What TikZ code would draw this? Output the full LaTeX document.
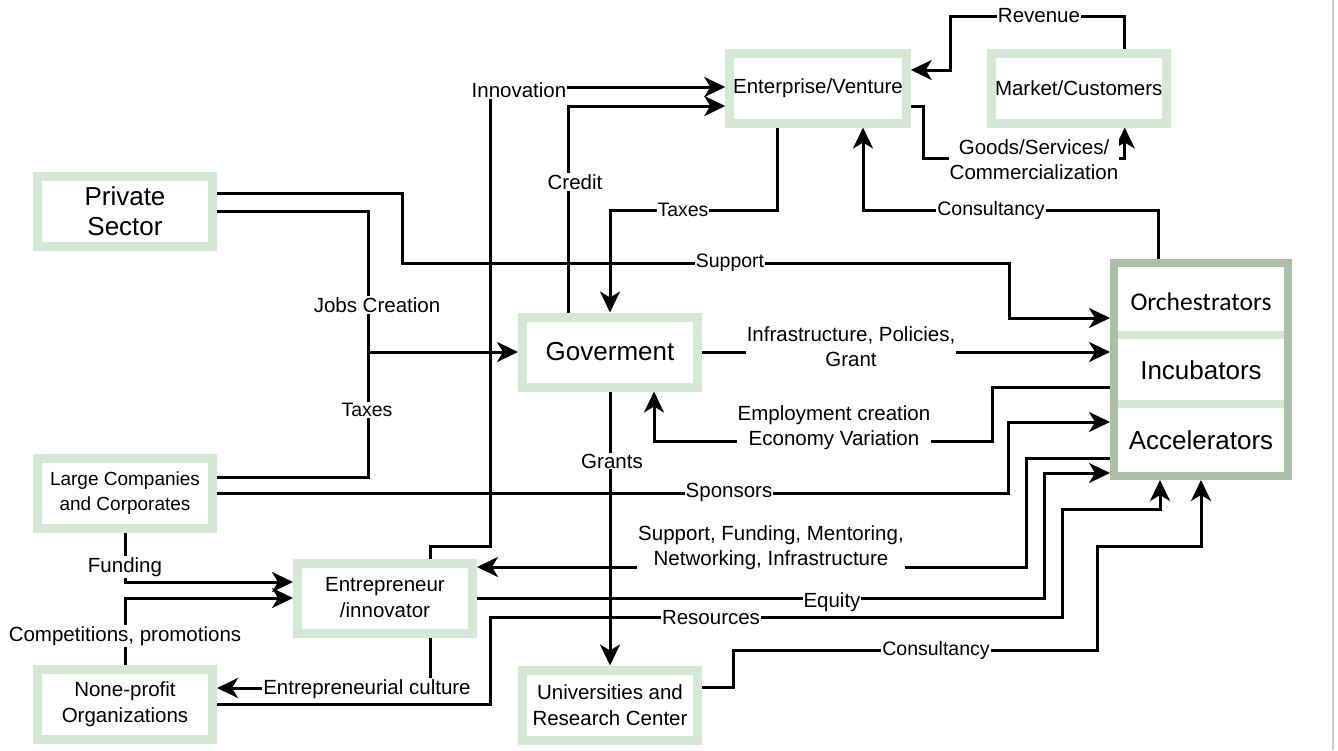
\documentclass[tikz,border=0pt]{standalone}
\usepackage{fontspec}
\setmainfont{Liberation Sans}
\newfontfamily\calibrifont{Carlito}
\usetikzlibrary{positioning}
\usetikzlibrary{arrows.meta}
\definecolor{palegreen}{RGB}{213,232,211}
\definecolor{hubgreen}{RGB}{172,192,168}
\newcommand{\bigtext}{\fontsize{26}{30}\selectfont}
\newcommand{\midtext}{\fontsize{20.5}{26}\selectfont}
\newcommand{\lbltext}{\fontsize{20.5}{25}\selectfont}
\newcommand{\smalltext}{\fontsize{19.5}{23}\selectfont}

\begin{document}
\begin{tikzpicture}[x=1pt,y=-1pt,
		box/.style={draw=palegreen,line width=9pt,rectangle,minimum width=175pt,minimum height=70pt,align=center,font=\midtext},
		bigbox/.style={box,font=\bigtext},
		link/.style={line width=3pt},
		arr/.style={link,-{Stealth[length=21pt,width=20pt,inset=6pt]}},
		lbl/.style={fill=white,inner sep=1pt,align=center,font=\lbltext},
		slbl/.style={lbl,font=\smalltext}]
		\useasboundingbox (0,0) rectangle (1338,750);

		\node[bigbox] at (125,211) (priv) {Private\\Sector};
		\node[box, below = 203pt of priv, font=\fontsize{19}{25}\selectfont] (large) {Large Companies\\and Corporates};
		\node[box, below = 132pt of large] (npo) {None-profit\\Organizations};
		\node[bigbox] at (610,352) (gov) {Goverment};
		\node[box] at (818,88) (ven) {Enterprise/Venture};
		\node[box, right = 76pt of ven] (mkt) {Market/Customers};
		\node[box] at (385,598) (innov) {Entrepreneur\\/innovator};
		\node[box] at (610,705) (uni) {Universities and\\Research Center};

		\node[draw=hubgreen,line width=8pt,minimum width=174pt,minimum height=213pt] at (1201,369.5) (hub) {};
		\draw[palegreen,line width=8pt] (1118,335) -- (1284,335);
		\draw[palegreen,line width=8pt] (1118,404) -- (1284,404);
		\node[font=\calibrifont\fontsize{25.5}{30}\selectfont] at (1201,302) (orch) {Orchestrators};
		\node[font=\bigtext] at (1201,370) (incub) {Incubators};
		\node[font=\bigtext] at (1201,440) (accel) {Accelerators};

		\draw[arr] ([yshift=18pt]priv.east) -| (402,263) -| (1009,318) -- ([yshift=51.5pt]hub.west)
			node[slbl] at (730,263) {Support};
		\coordinate (jct) at (368,352);
		\draw[arr] (priv.east) -| (jct) -- (gov.west)
			node[lbl] at (377,305) {Jobs Creation};
		\draw[link] ([yshift=16pt]large.east) -| (jct)
			node[slbl] at (367,410) {Taxes};
		\draw[arr] (large.east) -| (1008,422) -- ([yshift=-52.5pt]hub.west)
			node[lbl] at (729,492) {Sponsors};
		\draw[arr] (large.south) |- ([yshift=16pt]innov.west)
			node[lbl] at (125,567) {Funding};
		\draw[arr] (npo.north) |- (innov.west)
			node[lbl] at (125,636) {Competitions, promotions};
		\draw[arr] ([xshift=45pt]innov.north) |- (490,546) |- ([yshift=1pt]ven.west)
			node[lbl] at (519,90) {Innovation};
		\draw[arr] ([xshift=-42pt]gov.north) |- ([yshift=-18pt]ven.west)
			node[lbl] at (575,182) {Credit};
		\draw[arr] ([xshift=-41pt]ven.south) |- (610,210) -- (gov.north)
			node[slbl] at (683,210) {Taxes};
		\draw[arr] ([xshift=46pt]mkt.north) |- (950,16) |- ([yshift=18pt]ven.east)
			node[lbl] at (1039,16) {Revenue};
		\draw[arr] ([yshift=-18pt]ven.east) -| (923,158) -| ([xshift=46pt]mkt.south)
			node[lbl] at (1034,160) {Goods/Services/\\Commercialization};
		\draw[arr] ([xshift=-43pt]hub.north) |- (863,210) -- ([xshift=45pt]ven.south)
			node[slbl] at (991,210) {Consultancy};
		\draw[arr] (gov.east) -- (gov.east -| hub.west)
			node[lbl] at (851,347) {Infrastructure, Policies,\\Grant};
		\draw[arr] ([yshift=-17.5pt]hub.west) -| (992,441) -| ([xshift=44pt]gov.south)
			node[lbl] at (834,428) {Employment creation\\Economy Variation};
		\draw[arr] ([yshift=-88.5pt]hub.west) -| (1026,567) -- ([yshift=31pt]innov.east)
			node[lbl] at (771,548) {Support, Funding, Mentoring,\\Networking, Infrastructure};
		\draw[arr] (innov.east) -| (1044,473) -- ([yshift=-103.5pt]hub.west)
			node[lbl] at (832,602) {Equity};
		\draw[arr] (npo.east) -| (490,617) -| (1062,509) -| ([xshift=-41pt]hub.south)
			node[lbl] at (711,618) {Resources};
		\draw[arr] ([xshift=45pt]innov.south) |- ([yshift=16pt]npo.east)
			node[lbl] at (367,689) {Entrepreneurial culture};
		\draw[arr] (gov.south) -- (uni.north)
			node[lbl] at (612,461) {Grants};
		\draw[arr] ([yshift=18pt]uni.east) -| (733,650) -| (1097,546) -| (hub.south)
			node[slbl] at (936,650) {Consultancy};

		\draw[black!20,line width=1.5pt] (1333,0) -- (1333,750);
	\end{tikzpicture}
\end{document}
